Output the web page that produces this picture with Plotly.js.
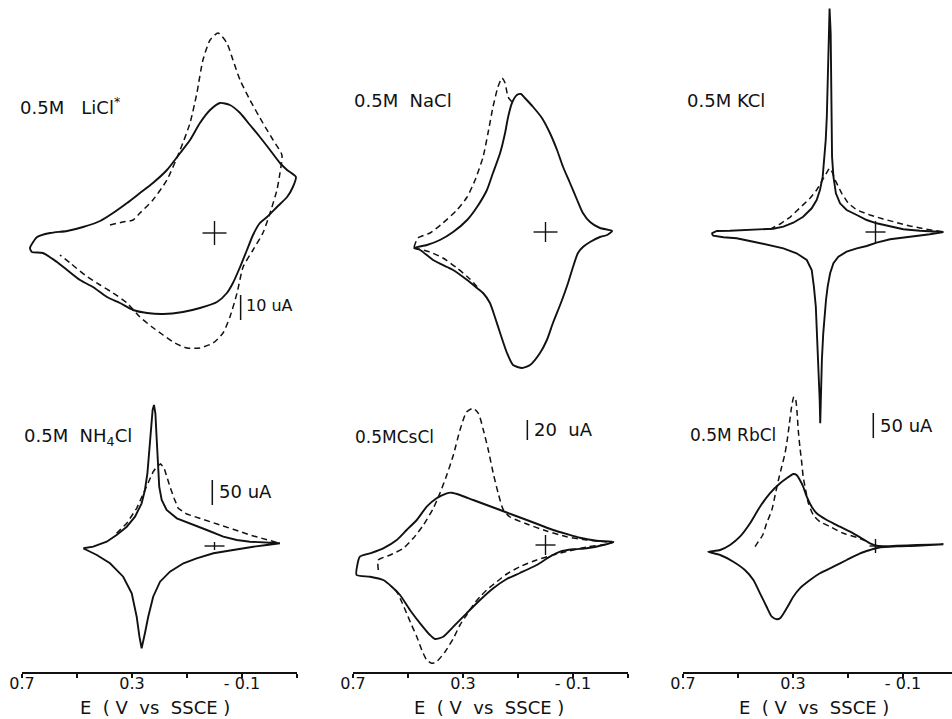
<!DOCTYPE html>
<html>
<head>
<meta charset="utf-8">
<script src="https://cdn.plot.ly/plotly-3.0.1.min.js"></script>
<style>
html,body{margin:0;padding:0;background:#fff;}
#chart{width:952px;height:719px;}
</style>
</head>
<body>
<div id="chart"></div>
<script>
// ---------- DATA: potential E (V vs SSCE) and current I (uA) ----------
// 0.5 M LiCl
const liclSolidE = [0.671,0.645,0.598,0.536,0.478,0.416,0.369,0.318,0.271,0.224,0.173,0.125,0.089,0.053,0.016,-0.020,-0.056,-0.093,-0.129,-0.165,-0.202,-0.238,-0.264,-0.296,
  -0.285,-0.264,-0.227,-0.191,-0.165,-0.140,-0.118,-0.093,-0.067,-0.045,-0.009,0.053,0.115,0.187,0.245,0.296,0.344,0.391,0.442,0.489,0.536,0.573,0.624,0.664,0.671];
const liclSolidI = [-6.0,-1.6,0,0.8,2.4,4.8,8,12,16,20,25.2,32,37.2,44,49.2,52,51.2,48,43.2,38.4,33.2,28,25.2,22.4,
  18.4,14.4,10.4,6.4,4,-0.8,-6.8,-13.6,-20,-24,-27.6,-30,-31.6,-32.4,-32,-30.8,-28,-25.6,-21.6,-18.8,-14.8,-11.6,-8,-7.6,-6.0];
const liclDashE = [0.380,0.333,0.296,0.271,0.224,0.173,0.125,0.089,0.064,0.042,0.016,-0.013,-0.045,-0.067,-0.093,-0.129,-0.176,-0.213,-0.245,-0.238,
  -0.227,-0.202,-0.176,-0.140,-0.104,-0.082,-0.056,-0.031,0.005,0.053,0.100,0.144,0.187,0.227,0.271,0.318,0.369,0.416,0.471,0.525,0.562];
const liclDashI = [3.2,4.4,5.2,8,13.2,21.2,33.2,44,56,69.2,77.2,80,76,69.2,61.2,53.2,44,37.2,31.2,24,
  17.2,8,0,-6.8,-13.6,-24,-33.6,-40,-44,-46,-46,-44,-40.8,-37.6,-33.6,-28,-24,-20.8,-16.8,-12,-8.8];

// 0.5 M NaCl
const naclSolidE = [0.478,0.431,0.384,0.336,0.285,0.249,0.213,0.191,0.165,0.147,0.136,0.122,0.104,0.089,0.075,0.045,0.013,-0.016,-0.042,-0.064,-0.089,-0.115,-0.136,-0.162,-0.198,-0.242,
  -0.224,-0.198,-0.162,-0.136,-0.118,-0.100,-0.082,-0.056,-0.027,-0.005,0.020,0.056,0.085,0.118,0.140,0.165,0.184,0.202,0.227,0.249,0.285,0.336,0.358,0.409,0.456,0.478];
const naclSolidI = [-16,-13,-8,0,12,25,42,59,79,99,115,129,137,138,134,125,114,99,82,65,49,32,19,10,4,1,
  -3,-5,-10,-15,-21,-35,-51,-71,-91,-108,-121,-133,-136,-133,-121,-101,-85,-71,-61,-56,-48,-38,-35,-28,-18,-16];
const naclDashE = [0.478,0.464,0.420,0.373,0.322,0.285,0.256,0.227,0.209,0.191,0.173,0.158,0.147,0.136,0.118,null,
  0.478,0.420,0.373,0.322,0.275,0.238];
const naclDashI = [-15,-6,-1,9,22,35,52,75,99,125,145,154,149,135,129,null,
  -16,-20,-26,-36,-47,-58];

// 0.5 M KCl
const kclSolidE = [0.596,0.577,0.529,0.468,0.408,0.372,0.335,0.299,0.263,0.232,0.214,0.202,0.192,0.186,0.181,0.177,0.174,0.170,0.167,0.163,
  0.162,0.161,0.159,0.158,0.153,0.144,0.129,0.105,0.068,0.032,-0.004,-0.053,-0.101,-0.162,-0.210,-0.247,
  -0.198,-0.150,-0.101,-0.053,-0.004,0.032,0.068,0.105,0.135,0.153,0.165,0.174,0.180,0.185,0.190,0.195,0.198,0.201,0.203,
  0.207,0.212,0.217,0.224,0.232,0.250,0.287,0.335,0.384,0.444,0.505,0.553,0.590,0.596];
const kclSolidI = [-2.6,2,2.6,4,5.4,6.6,10.6,18.6,30.6,47.4,64,84,110.6,144,184,230.6,297.4,364,447,397.4,
  330.6,264,197.4,150.6,110.6,77.4,57.4,44,34,24,17.4,10.6,5.4,2.6,1.4,0,
  -4.6,-8,-10.6,-14.6,-21.4,-28,-32.6,-39.4,-49.4,-62.6,-82.6,-109.4,-136,-169.4,-202.6,-256,-322.6,-382.6,-336,
  -269.4,-202.6,-149.4,-109.4,-76,-56,-42.6,-32.6,-26,-19.4,-12.6,-10.6,-7.4,-2.6];
const kclDashE = [0.384,0.347,0.311,0.275,0.238,0.214,0.196,0.177,0.168,0.158,0.144,0.123,0.099,0.068,0.020,-0.028,-0.077,-0.125,-0.174,-0.223,-0.247];
const kclDashI = [5.4,16,29.4,47.4,67.4,84,100.6,120.6,127.4,120.6,100.6,77.4,57.4,44,34,26,18.6,12,6.6,2,0];

// 0.5 M NH4Cl
const nh4SolidE = [0.477,0.441,0.392,0.356,0.319,0.289,0.265,0.253,0.244,0.237,0.231,0.225,0.220,0.215,0.210,0.205,0.201,0.192,0.174,0.137,
  0.089,0.028,-0.032,-0.081,-0.129,-0.177,-0.238,
  -0.190,-0.141,-0.068,0.004,0.065,0.113,0.162,0.198,0.223,0.241,0.253,0.265,0.273,0.283,0.301,0.332,0.380,0.428,0.465,0.477];
const nh4SolidI = [-4.6,-1.4,8.6,22,38.6,58.6,85.4,112,145.4,192,238.6,272,282,265.4,212,158.6,118.6,92,72,55.4,
  45.4,32,18.6,12,8.6,6.6,5.4,
  2,-1.4,-8,-14.6,-24.6,-34.6,-51.4,-71.4,-101.4,-141.4,-174.6,-204.6,-181.4,-141.4,-94.6,-61.4,-34.6,-18,-8,-4.6];
const nh4DashE = [0.356,0.319,0.283,0.259,0.241,0.223,0.208,0.196,0.184,0.176,0.162,0.147,0.132,0.101,0.053,-0.008,-0.068,-0.129,-0.190,-0.238];
const nh4DashI = [25.4,45.4,75.4,105.4,128.6,148.6,160,164,157.4,142,118.6,95.4,75.4,64,55.4,45.4,33.4,22,13.4,5.4];

// 0.5 M CsCl
const csclSolidE = [0.687,0.683,0.675,0.638,0.590,0.541,0.505,0.468,0.432,0.396,0.359,0.341,0.311,0.263,0.214,0.165,0.117,0.068,0.020,-0.028,
  -0.077,-0.125,-0.186,-0.247,
  -0.210,-0.150,-0.101,-0.053,-0.016,0.032,0.093,0.141,0.190,0.238,0.287,0.335,0.372,0.402,0.420,0.456,0.493,0.529,0.559,0.590,0.638,0.687];
const csclSolidI = [-30,-18.3,-11.7,-8.3,-3.3,5,15,25,38.3,46.7,51.7,52.3,50,45,40,35,30,25,20,15,
  11,7.3,4.3,3.3,
  0,-3.3,-4.3,-6.7,-11.7,-20,-28,-34,-43.3,-55,-68.3,-81.7,-91.7,-94,-90,-78.3,-65,-50,-41.7,-35,-31.7,-30];
const csclDashE = [0.608,0.608,0.565,0.517,0.481,0.444,0.408,0.384,0.359,0.335,0.311,0.287,0.263,0.244,0.226,0.208,0.190,0.172,0.153,0.129,
  0.068,-0.004,-0.077,-0.150,-0.223,-0.247,
  -0.223,-0.150,-0.089,-0.028,0.032,0.093,0.141,0.177,0.214,0.238,0.263,0.287,0.311,0.335,0.365,0.396,0.414,0.432,0.450,0.468,
  0.487,0.505,0.523,0.541,0.559];
const csclDashI = [-25,-15,-10,-3.3,6.7,20,36.7,51.7,70,90,115,133,136.7,131.7,115,95,71.7,51.7,35,28,
  21,14,8.3,5,3,2.7,
  0.7,-2,-5.7,-10,-15,-21.7,-29,-36.7,-45,-51.7,-60,-70,-80,-93.3,-106.7,-116.7,-118.3,-115,-105,-91.7,
  -80,-68.3,-56.7,-46.7,-41.7];

// 0.5 M RbCl
const rbclSolidE = [0.608,0.565,0.529,0.493,0.456,0.420,0.384,0.347,0.323,0.299,0.287,0.275,0.263,0.250,0.232,0.214,0.177,0.129,0.081,0.044,
  0.020,-0.010,-0.077,-0.150,-0.247,
  -0.150,-0.077,-0.010,0.020,0.056,0.105,0.153,0.202,0.238,0.275,0.299,0.323,0.347,0.359,0.377,0.396,0.420,0.444,0.475,0.517,0.565,0.602,0.608];
const rbclSolidI = [-11.4,-8,2,18.6,45.4,78.6,105.4,125.4,135.4,144,142,132,118.6,98.6,78.6,65.4,52,38.6,25.4,13.4,
  5.4,0,0.6,2,3.4,
  0.6,-0.6,-3.4,-8,-14.6,-28,-41.4,-54.6,-68,-84.6,-101.4,-124.6,-144.6,-146.6,-141.4,-121.4,-94.6,-68,-48,-31.4,-18,-12.6,-11.4];
const rbclDashE = [0.438,0.426,0.410,0.396,0.377,0.365,0.353,0.341,0.329,0.321,0.313,0.305,0.297,0.290,0.285,0.281,0.275,0.268,0.263,0.254,
  0.244,0.226,0.202,0.165,0.117,0.068,0.032];
const rbclDashI = [-1.4,8.6,22,45.4,72,102,132,158.6,185.4,212,245.4,278.6,298.6,292,265.4,232,198.6,165.4,138.6,112,
  85.4,62,48.6,38.6,25.4,17.4,9.4];

// panel labels and scale bars
const panelLabels = ['0.5M   LiCl<sup>*</sup>', '0.5M  NaCl', '0.5M KCl', '0.5M  NH<sub>4</sub>Cl', '0.5MCsCl', '0.5M RbCl'];
const tickVals = [0.7, 0.5, 0.3, 0.1, -0.1, -0.3];
const tickText = ['0.7', '', '0.3', '', '- 0.1', ''];
const barPanel = [1, 5, 6, 4];          // panel that owns each scale bar
const barUA    = [10, 20, 50, 50];      // scale-bar value (uA)
const barText  = ['10 uA', '20  uA', '50 uA', '50 uA'];

// ---------- LAYOUT (geometry) ----------
const W = 952, H = 719;
const colX0 = [22, 353, 683], colW = [275, 275, 269], pxPerV = 275;
const zeroRow = [233, 232, 232, 546, 545, 546];   // pixel row of I = 0
const uaPerPx = [0.4, 1, 2, 2, 1, 2];
const axisRow = 672;
const font = 'DejaVu Sans, Arial, sans-serif';

const series = [
  [liclSolidE, liclSolidI, liclDashE, liclDashI, 'spline'],
  [naclSolidE, naclSolidI, naclDashE, naclDashI, 'spline'],
  [kclSolidE, kclSolidI, kclDashE, kclDashI, 'linear'],
  [nh4SolidE, nh4SolidI, nh4DashE, nh4DashI, 'linear'],
  [csclSolidE, csclSolidI, csclDashE, csclDashI, 'spline'],
  [rbclSolidE, rbclSolidI, rbclDashE, rbclDashI, 'spline']
];

const traces = [];
const layout = {
  width: W, height: H, margin: {l: 0, r: 0, t: 0, b: 0},
  paper_bgcolor: '#fff', plot_bgcolor: 'rgba(0,0,0,0)',
  showlegend: false, shapes: [], annotations: []
};

for (let p = 0; p < 6; p++) {
  const c = p % 3, n = p + 1;
  const xa = n === 1 ? 'x' : 'x' + n, ya = n === 1 ? 'y' : 'y' + n;
  const x0 = colX0[c], w = colW[c];
  const xax = {
    domain: [x0 / W, Math.min(1, (x0 + w) / W)],
    range: [0.7, 0.7 - w / pxPerV],
    showgrid: false, zeroline: false, fixedrange: true
  };
  if (p < 3) {
    xax.visible = false;
    xax.anchor = ya;
  } else {
    Object.assign(xax, {
      anchor: 'free', position: (H - axisRow) / H,
      showline: true, linecolor: '#111', linewidth: 1.6,
      ticks: 'outside', ticklen: 4, tickwidth: 1.4, tickcolor: '#111',
      ticklabelstandoff: -8,
      tickmode: 'array', tickvals: tickVals, ticktext: tickText,
      tickfont: {family: font, size: 16, color: '#111'}
    });
  }
  const yc = zeroRow[p], k = uaPerPx[p];
  const yax = {domain: [0, 1], range: [(yc - H) * k, yc * k], visible: false,
               anchor: xa, fixedrange: true};
  layout[n === 1 ? 'xaxis' : 'xaxis' + n] = xax;
  layout[n === 1 ? 'yaxis' : 'yaxis' + n] = yax;

  const s = series[p];
  traces.push({x: s[0], y: s[1], xaxis: xa, yaxis: ya, mode: 'lines', hoverinfo: 'skip',
    line: {color: '#111', width: 1.9, shape: s[4], smoothing: 0.6}});
  traces.push({x: s[2], y: s[3], xaxis: xa, yaxis: ya, mode: 'lines', hoverinfo: 'skip',
    connectgaps: false,
    line: {color: '#111', width: 1.5, dash: '6px,4px', shape: s[4], smoothing: 0.6}});

  // origin cross (E = 0, I = 0)
  const armPx = [[12, 12], [12, 10], [10, 11], [10, 4], [10, 10], [6, 7]][p];
  const hx = armPx[0] / pxPerV, vy = armPx[1] * k;
  layout.shapes.push({type: 'line', xref: xa, yref: ya, x0: -hx, x1: hx, y0: 0, y1: 0,
    line: {color: '#111', width: 1.4}});
  layout.shapes.push({type: 'line', xref: xa, yref: ya, x0: 0, x1: 0, y0: -vy, y1: vy,
    line: {color: '#111', width: 1.4}});
}

// scale bars
const barE  = [-0.095, 0.066, 0.008, 0.008];
const barI0 = [-34.8, 105, 216, 82];
for (let b = 0; b < barPanel.length; b++) {
  const n = barPanel[b];
  const xa = n === 1 ? 'x' : 'x' + n, ya = n === 1 ? 'y' : 'y' + n;
  layout.shapes.push({type: 'line', xref: xa, yref: ya, x0: barE[b], x1: barE[b],
    y0: barI0[b], y1: barI0[b] + barUA[b], line: {color: '#111', width: 1.5}});
}

function ann(text, px, py, size, anchor) {
  layout.annotations.push({text: text, xref: 'paper', yref: 'paper', x: px / W, y: 1 - py / H,
    xanchor: anchor || 'left', yanchor: 'middle', showarrow: false,
    font: {family: font, size: size, color: '#111'}});
}
const labelPos = [[18, 106], [352, 101], [685, 101], [22, 437], [353, 437], [688, 435]];
const labelSize = [18, 18, 18, 18, 17, 17];
panelLabels.forEach((t, i) => ann(t, labelPos[i][0], labelPos[i][1], labelSize[i]));
const barTextPos = [[244, 306], [532, 429], [878, 425], [217, 491]];
const barTextSize = [16, 18, 18, 18];
barText.forEach((t, i) => ann(t, barTextPos[i][0], barTextPos[i][1], barTextSize[i]));
[[155, 707], [489, 707], [814, 707]].forEach(q => ann('E  ( V  vs  SSCE )', q[0], q[1], 18, 'center'));

Plotly.newPlot('chart', traces, layout, {staticPlot: true});
</script>
</body>
</html>
